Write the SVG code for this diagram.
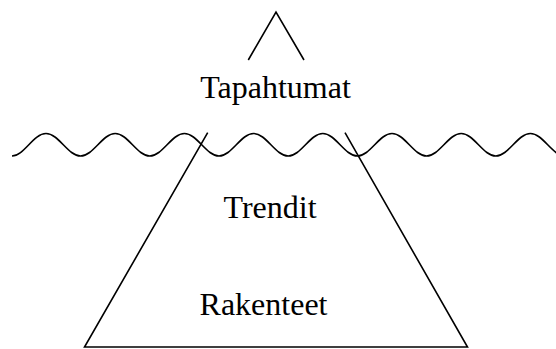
<svg xmlns="http://www.w3.org/2000/svg" width="556" height="349" viewBox="0 0 556 349">
<style>
.ln{fill:none;stroke:#000;stroke-width:1.6;stroke-linejoin:miter}
.lbl{font-family:"Liberation Serif","Times New Roman",serif;font-size:32px;fill:#000;text-anchor:middle}
</style>
<rect width="556" height="349" fill="#fff"/>
<g id="connectors">
<path id="water" class="ln" d="M12,156 C23.97,156 33.43,133.5 46,133.5 S68.03,156 80.6,156 S102.63,133.5 115.2,133.5 S137.23,156 149.8,156 S171.83,133.5 184.4,133.5 S206.43,156 219,156 S241.03,133.5 253.6,133.5 S275.63,156 288.2,156 S310.23,133.5 322.8,133.5 S344.83,156 357.4,156 S379.43,133.5 392,133.5 S414.03,156 426.6,156 S448.63,133.5 461.2,133.5 S483.23,156 495.8,156 S517.83,133.5 530.4,133.5 S552.43,156 565,156"/>
</g>
<g id="tip">
<polyline class="ln" points="248.3,60 276,12 304,60"/>
<text class="lbl" x="275.5" y="98">Tapahtumat</text>
</g>
<g id="iceberg">
<polyline class="ln" points="207.7,132.7 84.5,347 467.5,347 345,132.7"/>
</g>
<g id="trendit">
<text class="lbl" x="270" y="218">Trendit</text>
</g>
<g id="rakenteet">
<text class="lbl" x="263.5" y="315">Rakenteet</text>
</g>
</svg>
